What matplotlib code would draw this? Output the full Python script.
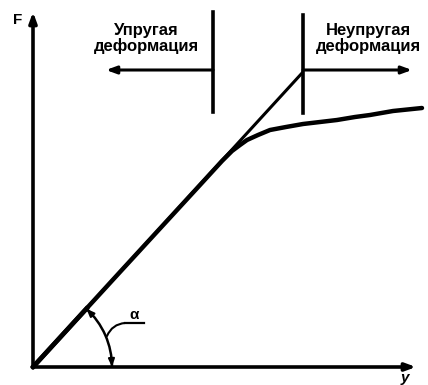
import matplotlib
matplotlib.use("Agg")
import matplotlib.pyplot as plt
import numpy as np
from matplotlib.patches import Arc

# Data (pixel-space geometry)
origin = (33, 367)
elastic_end = (303, 72)          # end of the straight (elastic) line
curve_x = [33, 120, 200, 222, 232, 240, 247, 258, 270, 286, 303, 320, 337, 355, 370, 393, 422]
curve_y = [367, 272, 185, 161, 151, 145, 140, 135, 130, 127, 124, 122, 120, 117, 115, 111, 108]
boundary_x = [213, 303]
labels = ["Упругая\nдеформация", "Неупругая\nдеформация"]
axis_labels = ["F", "у"]
angle_label = "α"

W, H = 428, 385
fig = plt.figure(figsize=(W / 100, H / 100), dpi=100)
ax = fig.add_axes([0, 0, 1, 1])
ax.set_xlim(0, W)
ax.set_ylim(H, 0)
ax.axis("off")

lw = 2.6
font = dict(family=["Liberation Sans", "DejaVu Sans"], fontweight="bold")
head = "-|>,head_length=0.6,head_width=0.22"

# axes
ax.annotate("", xy=(origin[0], 12), xytext=(origin[0], origin[1] + 1),
            arrowprops=dict(arrowstyle=head, lw=lw, color="black", shrinkA=0, shrinkB=0))
ax.annotate("", xy=(416, origin[1]), xytext=(origin[0] - 1, origin[1]),
            arrowprops=dict(arrowstyle=head, lw=lw, color="black", shrinkA=0, shrinkB=0))
ax.text(18, 20, axis_labels[0], ha="center", va="center", fontsize=11, **font)
ax.text(405, 378, axis_labels[1], ha="center", va="center", fontsize=11, fontstyle="italic", **font)

# straight elastic line
ax.plot([origin[0], elastic_end[0]], [origin[1], elastic_end[1]], color="black", lw=2.2,
        solid_capstyle="butt")
ax.plot([origin[0], 88], [origin[1], 307], color="black", lw=3.4, solid_capstyle="butt")

# curve
ax.plot(curve_x, curve_y, color="black", lw=3.2, solid_joinstyle="round", solid_capstyle="round")

# boundary lines
ax.plot([boundary_x[0]] * 2, [12, 112], color="black", lw=lw)
ax.plot([boundary_x[1]] * 2, [15, 113], color="black", lw=lw)

# region arrows
ax.annotate("", xy=(106, 70), xytext=(boundary_x[0], 70),
            arrowprops=dict(arrowstyle=head, lw=lw - 0.4, color="black", shrinkA=0, shrinkB=0))
ax.annotate("", xy=(412, 70), xytext=(boundary_x[1], 70),
            arrowprops=dict(arrowstyle=head, lw=lw - 0.4, color="black", shrinkA=0, shrinkB=0))

ax.text(146, 38, labels[0], ha="center", va="center", fontsize=12, linespacing=1.0, **font)
ax.text(368, 38, labels[1], ha="center", va="center", fontsize=12, linespacing=1.0, **font)

# angle arc with arrows
r = 79
ang_line = np.degrees(np.arctan2(origin[1] - elastic_end[1], elastic_end[0] - origin[0]))
arc = Arc(origin, 2 * r, 2 * r, angle=0, theta1=-ang_line, theta2=0, color="black", lw=1.8)
ax.add_patch(arc)
t = np.radians(ang_line)
p_top = (origin[0] + r * np.cos(t), origin[1] - r * np.sin(t))
p_bot = (origin[0] + r, origin[1])
small = "-|>,head_length=0.45,head_width=0.18"
ax.annotate("", xy=p_top, xytext=(origin[0] + r * np.cos(t - 0.12), origin[1] - r * np.sin(t - 0.12)),
            arrowprops=dict(arrowstyle=small, lw=1.5, color="black", shrinkA=0, shrinkB=0))
ax.annotate("", xy=p_bot, xytext=(origin[0] + r * np.cos(0.12), origin[1] - r * np.sin(0.12)),
            arrowprops=dict(arrowstyle=small, lw=1.5, color="black", shrinkA=0, shrinkB=0))

# alpha label with leader
ax.plot([125, 144], [323, 323], color="black", lw=1.6)
ax.annotate("", xy=(107, 336), xytext=(125, 323),
            arrowprops=dict(arrowstyle="-", lw=1.5, color="black", connectionstyle="arc3,rad=0.3",
                            shrinkA=0, shrinkB=0))
ax.text(134, 315, angle_label, ha="center", va="center", fontsize=11, **font)

fig.savefig("out.png", dpi=100)
